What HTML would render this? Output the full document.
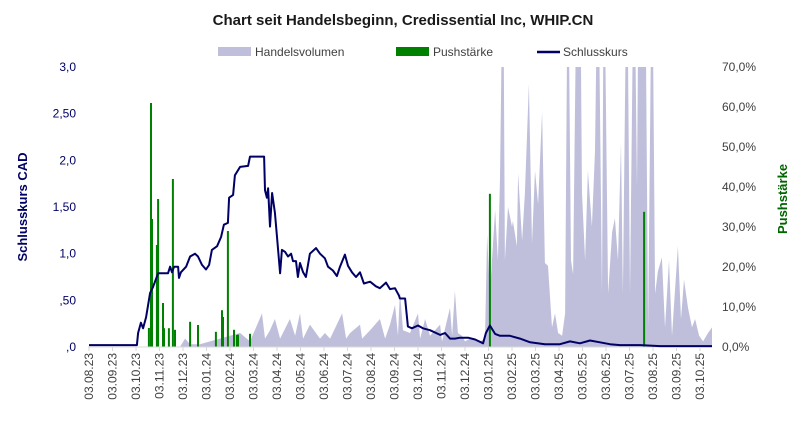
<!DOCTYPE html>
<html><head><meta charset="utf-8"><style>
body{margin:0;background:#fff;font-family:"Liberation Sans",sans-serif}
svg text{font-family:"Liberation Sans",sans-serif}
</style></head><body>
<svg id="c" width="806" height="428" viewBox="0 0 806 428" xmlns="http://www.w3.org/2000/svg">
<text x="403" y="25" text-anchor="middle" font-size="15" font-weight="bold" fill="#1a1a1a">Chart seit Handelsbeginn, Credissential Inc, WHIP.CN</text>
<g>
<rect x="218" y="47" width="33" height="9" fill="#bfbfdc"/>
<text x="255" y="56" font-size="12" fill="#404040">Handelsvolumen</text>
<rect x="396" y="47" width="33" height="9" fill="#008000"/>
<text x="433" y="56" font-size="12" fill="#404040">Pushstärke</text>
<line x1="537" y1="52" x2="560" y2="52" stroke="#000066" stroke-width="2.5"/>
<text x="563" y="56" font-size="12" fill="#404040">Schlusskurs</text>
</g>
<text transform="translate(27,207) rotate(-90)" text-anchor="middle" font-size="13" font-weight="bold" fill="#000066">Schlusskurs CAD</text>
<text transform="translate(787,199) rotate(-90)" text-anchor="middle" font-size="13" font-weight="bold" fill="#006400">Pushstärke</text>
<defs><clipPath id="pc"><rect x="88" y="67" width="624" height="280"/></clipPath></defs>
<g id="vol" clip-path="url(#pc)"></g>
<g id="push"></g>
<line x1="88" y1="347" x2="712" y2="347" stroke="#d9d9d9" stroke-width="1"/>
<g id="price"></g>
<g id="axes"></g>
</svg>
<script>
// x values are months since 03.08.23
const xLabels=["03.08.23","03.09.23","03.10.23","03.11.23","03.12.23","03.01.24","03.02.24","03.03.24","03.04.24","03.05.24","03.06.24","03.07.24","03.08.24","03.09.24","03.10.24","03.11.24","03.12.24","03.01.25","03.02.25","03.03.25","03.04.25","03.05.25","03.06.25","03.07.25","03.08.25","03.09.25","03.10.25"];
const leftTicks=[0,0.5,1,1.5,2,2.5,3];
const leftTickLabels=[",0",",50","1,0","1,50","2,0","2,50","3,0"];
const rightTicks=[0,10,20,30,40,50,60,70];
const rightTickLabels=["0,0%","10,0%","20,0%","30,0%","40,0%","50,0%","60,0%","70,0%"];
const priceT=[0,2.04,2.09,2.21,2.3,2.43,2.6,2.72,2.94,3.36,3.45,3.53,3.62,3.79,3.83,3.91,4.13,4.3,4.51,4.64,4.81,4.98,5.11,5.23,5.45,5.62,5.74,5.91,5.96,6.13,6.21,6.43,6.77,6.85,7.45,7.49,7.57,7.62,7.70,7.79,7.91,8.0,8.13,8.21,8.34,8.47,8.6,8.68,8.81,8.89,8.98,9.11,9.23,9.4,9.66,9.83,10.04,10.17,10.38,10.55,10.68,10.89,11.02,11.19,11.36,11.53,11.7,11.96,12.21,12.38,12.64,12.81,13.02,13.19,13.23,13.45,13.57,13.74,14.0,14.21,14.51,14.94,15.15,15.36,15.57,15.79,16.13,16.43,16.77,16.89,17.06,17.28,17.49,17.91,18.34,18.77,19.4,20.04,20.47,20.89,21.32,21.74,22.17,22.6,23.45,24.3,25.15,26.51];
const priceV=[0.02,0.02,0.15,0.26,0.2,0.32,0.58,0.64,0.79,0.79,0.86,0.8,0.86,0.86,0.74,0.8,0.86,0.97,1.0,0.97,0.88,0.83,0.88,1.04,1.08,1.18,1.31,1.33,1.6,1.63,1.84,1.93,1.94,2.04,2.04,1.68,1.6,1.7,1.29,1.65,1.44,1.18,0.79,1.04,1.02,0.97,1.0,0.92,0.92,0.75,0.9,0.8,0.75,1.0,1.06,1.0,0.95,0.86,0.82,0.76,0.86,0.99,0.87,0.8,0.75,0.8,0.68,0.7,0.65,0.63,0.69,0.62,0.63,0.55,0.52,0.52,0.22,0.2,0.23,0.2,0.18,0.13,0.15,0.09,0.09,0.1,0.1,0.08,0.04,0.15,0.23,0.14,0.12,0.12,0.09,0.05,0.03,0.03,0.06,0.04,0.07,0.05,0.03,0.02,0.02,0.01,0.01,0.01];
const pushT=[2.55,2.64,2.68,2.89,2.94,3.15,3.19,3.4,3.57,3.66,4.3,4.64,5.4,5.66,5.7,5.91,6.17,6.3,6.34,6.85,17.06,23.62];
const pushV=[4.75,61,32,25.5,37,11,4.7,4.7,42,4.3,6.3,5.5,3.8,9.2,7.5,29,4.3,3,3.1,3.3,38.3,33.8];
const volT=[3.87,4.09,4.3,4.72,5.15,5.57,6.0,6.43,6.85,7.36,7.49,7.70,7.91,8.13,8.55,8.77,8.98,9.11,9.4,9.83,10.04,10.26,10.77,10.94,11.11,11.53,11.62,11.96,12.38,12.6,12.81,13.02,13.15,13.23,13.36,13.66,14.0,14.09,14.3,14.51,14.94,15.02,15.36,15.45,15.57,15.7,15.87,16.0,16.21,16.64,16.85,16.94,17.06,17.28,17.40,17.49,17.62,17.70,17.83,18.0,18.04,18.21,18.26,18.43,18.55,18.72,18.85,18.98,19.11,19.28,19.40,19.53,19.70,19.83,19.96,20.13,20.26,20.38,20.51,20.60,20.77,20.89,20.98,21.11,21.23,21.40,21.53,21.66,21.83,21.91,22.09,22.26,22.38,22.51,22.64,22.72,22.89,23.02,23.19,23.32,23.40,23.66,23.79,23.96,24.09,24.21,24.38,24.51,24.68,24.81,25.06,25.19,25.32,25.49,25.66,25.79,25.96,26.13,26.34,26.51];
const volV=[0,3,1,1,2,3,4,5,2,12,3,6,10,3,10,4,12,3,8,3,5,3,12,3,5,8,3,6,10,3,8,15,4,20,6,5,12,3,10,4,8,2,14,4,20,5,4,2,3,2,3,40,19,49,31,60,150,31,50,43,45,36,62,38,55,94,37,63,51,84,30,29,7,12,5,4,12,150,31,26,150,150,55,31,63,43,70,150,19,150,19,41,46,31,73,19,150,19,150,57,150,150,7,150,19,27,32,7,31,4,36,10,24,14,7,10,4,2,5,7];
const X=m=>89+m*23.5;
const YL=v=>347-v*280/3;
const YR=p=>347-p*4;
const YV=v=>347-v*2.8;
const NS="http://www.w3.org/2000/svg";
function mk(tag,attrs,parent){const e=document.createElementNS(NS,tag);for(const k in attrs)e.setAttribute(k,attrs[k]);parent.appendChild(e);return e;}
// volume area
let d="M"+X(volT[0])+",347";
volT.forEach((t,i)=>{d+=" L"+X(t).toFixed(1)+","+YV(volV[i]).toFixed(1);});
d+=" L"+X(volT[volT.length-1])+",347 Z";
const va=mk('path',{d:d,fill:"#bfbfdc"},document.getElementById('vol'));


// push bars
pushT.forEach((t,i)=>{
 const r=mk('rect',{x:(X(t)-1).toFixed(1),y:YR(pushV[i]).toFixed(1),width:2,height:(347-YR(pushV[i])).toFixed(1),fill:"#008000"},document.getElementById('push'));
 
 
});
// price line
const pts=priceT.map((t,i)=>X(t).toFixed(1)+","+YL(priceV[i]).toFixed(1)).join(" ");
const pl=mk('polyline',{points:pts,fill:"none",stroke:"#000066","stroke-width":2,"stroke-linejoin":"round"},document.getElementById('price'));


const ax=document.getElementById('axes');
leftTicks.forEach((v,i)=>{
 const t=mk('text',{x:76,y:YL(v)+4,"text-anchor":"end","font-size":12,fill:"#000066"},ax);
 t.textContent=leftTickLabels[i];
 
 
});
rightTicks.forEach((v,i)=>{
 const t=mk('text',{x:722,y:YR(v)+4,"font-size":12,fill:"#404040"},ax);
 t.textContent=rightTickLabels[i];
 
 
});
xLabels.forEach((l,i)=>{
 const x=X(i);
 const tk=mk('line',{x1:x,y1:347,x2:x,y2:351,stroke:"#d9d9d9"},ax);
 
 
 const t=mk('text',{transform:"translate("+(x+4)+",353) rotate(-90)","text-anchor":"end","font-size":12,fill:"#404040"},ax);
 t.textContent=l;
 
 
});
</script>
</body></html>
